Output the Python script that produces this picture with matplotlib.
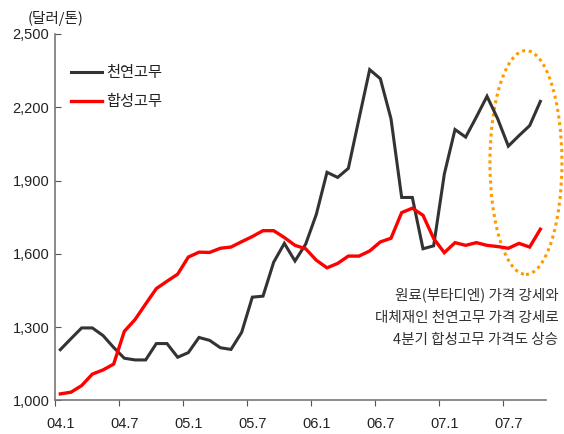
import matplotlib
matplotlib.use("Agg")
import matplotlib.pyplot as plt
from matplotlib.patches import Ellipse
import numpy as np

plt.rcParams['font.family'] = ['Liberation Sans', 'Noto Sans CJK KR', 'DejaVu Sans']

months = [f"{y:02d}.{m}" for y in range(4, 8) for m in range(1, 13)][:46]
natural = [1208, 1253, 1297, 1297, 1266, 1217, 1173, 1166, 1166, 1233, 1233, 1177,
           1196, 1258, 1246, 1216, 1209, 1279, 1423, 1427, 1566, 1643, 1571, 1640,
           1762, 1934, 1913, 1950, 2153, 2354, 2317, 2153, 1831, 1831, 1621, 1633,
           1927, 2109, 2078, 2160, 2245, 2153, 2041, 2084, 2125, 2224]
synthetic = [1027, 1034, 1061, 1108, 1125, 1149, 1283, 1331, 1395, 1458, 1488, 1517,
             1587, 1607, 1606, 1623, 1628, 1650, 1671, 1695, 1695, 1667, 1635, 1621,
             1574, 1543, 1561, 1591, 1591, 1612, 1649, 1664, 1769, 1787, 1758, 1663,
             1605, 1646, 1635, 1646, 1635, 1630, 1623, 1643, 1628, 1701]
tick_labels = ["04.1", "04.7", "05.1", "05.7", "06.1", "06.7", "07.1", "07.7"]
yticks = [1000, 1300, 1600, 1900, 2200, 2500]
series_names = ["천연고무", "합성고무"]
note = "원료(부타디엔) 가격 강세와\n대체재인 천연고무 가격 강세로\n4분기 합성고무 가격도 상승"

fig = plt.figure(figsize=(5.64, 4.34), dpi=100)
ax = fig.add_axes([0.0975, 0.0772, 0.870, 0.8445])
x = np.arange(len(months))
ax.plot(x, natural, color='#333333', lw=2.2, label=series_names[0], solid_joinstyle='miter')
ax.plot(x, synthetic, color='#ff0000', lw=2.4, label=series_names[1], solid_joinstyle='miter')

ax.set_xlim(-0.5, len(months) - 0.5)
ax.set_ylim(1000, 2500)

label_pos = [months.index(t) for t in tick_labels]
ax.set_xticks([p - 0.5 for p in label_pos])
ax.set_xticklabels([])
ax.set_xticks(label_pos, minor=True)
ax.set_xticklabels(tick_labels, minor=True, fontsize=10.5, color='#222222')
ax.tick_params(axis='x', which='major', direction='out', length=4, color='#555555')
ax.tick_params(axis='x', which='minor', length=0, pad=12)

ax.set_yticks(yticks)
ax.set_yticklabels([f"{v:,}" for v in yticks], fontsize=10.5, color='#222222')
ax.tick_params(axis='y', direction='in', length=4, color='#555555', pad=4)

for s in ['top', 'right']:
    ax.spines[s].set_visible(False)
for s in ['left', 'bottom']:
    ax.spines[s].set_color('#777777')
    ax.spines[s].set_linewidth(1.2)

fig.text(28 / 564, 1 - 18 / 434, "(달러/톤)", fontsize=10.5, va='center', ha='left',
         color='#222222', family=['Noto Sans CJK KR', 'DejaVu Sans'])

leg = ax.legend(loc='upper left', bbox_to_anchor=(0.005, 0.955), frameon=False,
                prop={'family': ['Noto Sans CJK KR', 'DejaVu Sans'], 'size': 11},
                handlelength=2.0, handletextpad=0.3, labelspacing=0.8)
for t in leg.get_texts():
    t.set_color('#222222')

ell = Ellipse((43.65, 1974), width=6.75, height=916, fill=False,
              edgecolor='#FF9900', lw=2.2, linestyle=(0, (1, 1.2)), clip_on=False)
ax.add_patch(ell)

ax.text(46.7, 1462, note, ha='right', va='top', fontsize=10.5, color='#333333',
        linespacing=1.75, family=['Noto Sans CJK KR', 'DejaVu Sans'])

fig.savefig("out.png", dpi=100)
